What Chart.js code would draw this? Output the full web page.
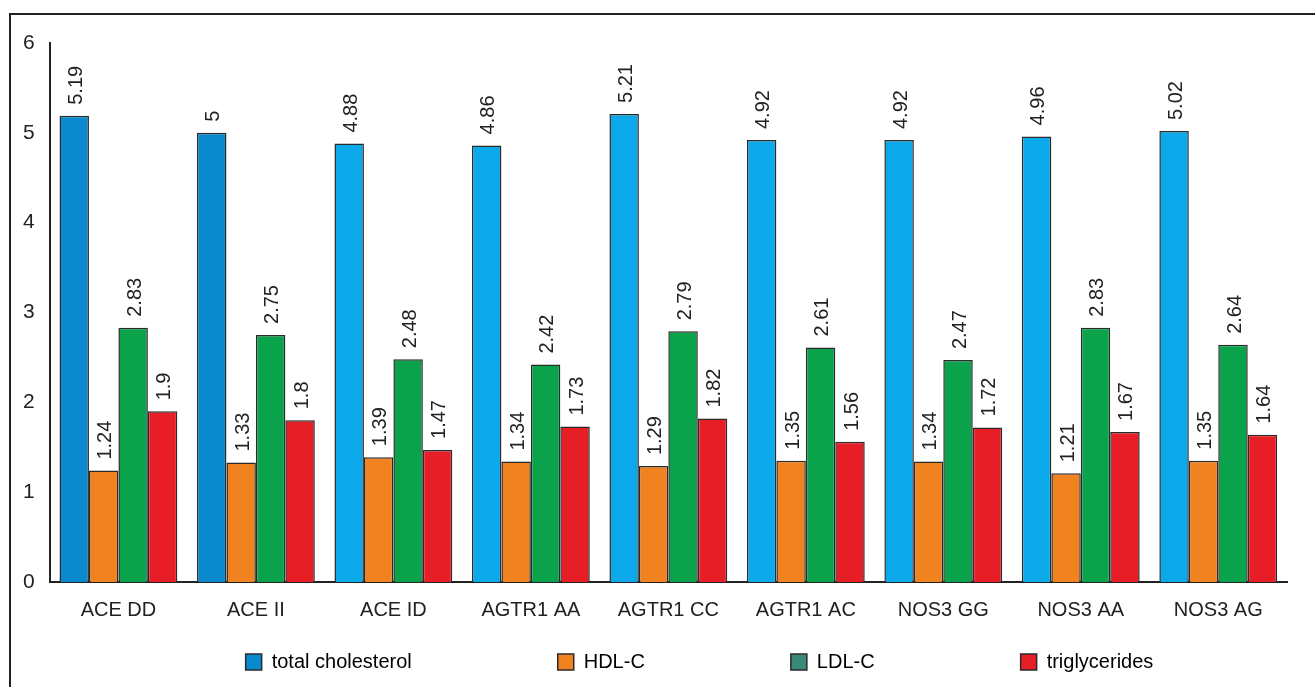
<!DOCTYPE html>
<html>
<head>
<meta charset="utf-8">
<script src="https://cdn.jsdelivr.net/npm/chart.js@4.4.0/dist/chart.umd.min.js"></script>
<style>
  html, body { margin: 0; padding: 0; background: #fff; overflow: hidden; }
  #wrap { position: relative; width: 1315px; height: 687px; }
  #frame { position: absolute; left: 9px; top: 13px; width: 1400px; height: 800px; border: 2px solid #222; box-sizing: border-box; }
  canvas { position: absolute; left: 0; top: 0; }
</style>
</head>
<body>
<div id="wrap">
  <div id="frame"></div>
  <canvas id="myChart" width="1315" height="687"></canvas>
</div>
<script>
// datos
const categorias = ["ACE DD", "ACE II", "ACE ID", "AGTR1 AA", "AGTR1 CC", "AGTR1 AC", "NOS3 GG", "NOS3 AA", "NOS3 AG"];
const totalCholesterol = [5.19, 5, 4.88, 4.86, 5.21, 4.92, 4.92, 4.96, 5.02];
const hdlC = [1.24, 1.33, 1.39, 1.34, 1.29, 1.35, 1.34, 1.21, 1.35];
const ldlC = [2.83, 2.75, 2.48, 2.42, 2.79, 2.61, 2.47, 2.83, 2.64];
const triglycerides = [1.9, 1.8, 1.47, 1.73, 1.82, 1.56, 1.72, 1.67, 1.64];
const nombresSeries = ["total cholesterol", "HDL-C", "LDL-C", "triglycerides"];
const yTicks = [0, 1, 2, 3, 4, 5, 6];

const fuente = "'Liberation Sans', Arial, sans-serif";
const azulOscuro = "#0b89cf";
const azulClaro = "#0ba9e9";
const coloresLeyenda = [azulOscuro, "#f08220", "#3a8a78", "#e81e26"];
const paddingLeyenda = 146;

// etiquetas rotadas sobre cada barra
const etiquetasPlugin = {
  id: "etiquetas",
  afterDatasetsDraw(chart) {
    const ctx = chart.ctx;
    ctx.save();
    ctx.font = "20px " + fuente;
    ctx.fillStyle = "#222";
    ctx.textAlign = "left";
    ctx.textBaseline = "middle";
    chart.data.datasets.forEach((ds, i) => {
      chart.getDatasetMeta(i).data.forEach((bar, j) => {
        ctx.save();
        ctx.translate(bar.x + 2, bar.y - 11);
        ctx.rotate(-Math.PI / 2);
        ctx.fillText(String(ds.data[j]), 0, 0);
        ctx.restore();
      });
    });
    ctx.restore();
  },
};

// la leyenda usa un padding grande para separar items; se corrige su posicion
const moverLeyenda = {
  id: "moverLeyenda",
  afterLayout(chart) {
    const lg = chart.legend;
    lg.left += 52;
    lg.right += 52;
    lg.top = 652 - paddingLeyenda;
  },
};

const ctx = document.getElementById("myChart").getContext("2d");

const data = {
  labels: categorias,
  datasets: [
    {
      label: nombresSeries[0],
      data: totalCholesterol,
      backgroundColor: categorias.map((c, i) => (i < 2 ? azulOscuro : azulClaro)),
    },
    { label: nombresSeries[1], data: hdlC, backgroundColor: "#f08220" },
    { label: nombresSeries[2], data: ldlC, backgroundColor: "#0ba24c" },
    { label: nombresSeries[3], data: triglycerides, backgroundColor: "#e81e26" },
  ],
};
data.datasets.forEach((d) => {
  d.borderColor = "#2a2a2a";
  d.borderWidth = 1.5;
  d.categoryPercentage = 0.857;
  d.barPercentage = 1.0;
});

const myChart = new Chart(ctx, {
  type: "bar",
  data: data,
  plugins: [etiquetasPlugin, moverLeyenda],
  options: {
    responsive: false,
    animation: false,
    layout: { padding: { left: 8, right: 28, top: 43, bottom: 9 } },
    scales: {
      x: {
        grid: { display: false, drawTicks: false },
        border: { color: "#222", width: 2 },
        ticks: { color: "#222", font: { family: fuente, size: 20 }, padding: 16 },
      },
      y: {
        min: 0,
        max: 6,
        afterBuildTicks: (axis) => {
          axis.ticks = yTicks.map((v) => ({ value: v }));
        },
        grid: { display: false, drawTicks: false },
        border: { color: "#222", width: 2 },
        ticks: { color: "#222", font: { family: fuente, size: 21 }, padding: 15 },
      },
    },
    plugins: {
      tooltip: { enabled: false },
      legend: {
        position: "bottom",
        maxHeight: 40,
        labels: {
          color: "#222",
          font: { family: fuente, size: 20 },
          boxWidth: 16,
          boxHeight: 16,
          padding: paddingLeyenda,
          generateLabels: (chart) =>
            nombresSeries.map((n, i) => ({
              text: n,
              fillStyle: coloresLeyenda[i],
              strokeStyle: "#2a2a2a",
              lineWidth: 1.5,
              datasetIndex: i,
            })),
        },
      },
    },
  },
});
</script>
</body>
</html>
